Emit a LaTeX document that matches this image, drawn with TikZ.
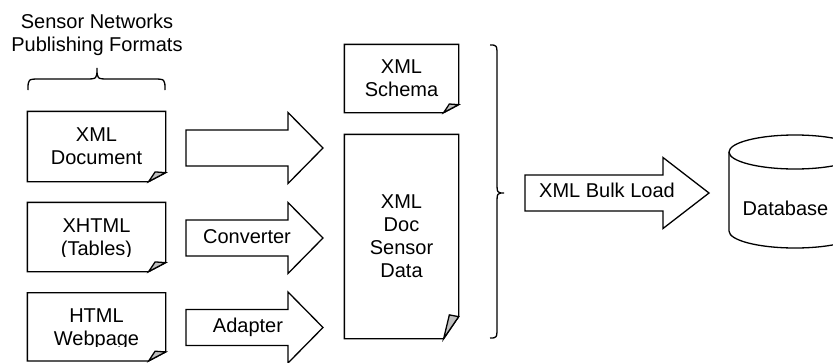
\documentclass[tikz,border=0pt]{standalone}
\usepackage{fontspec}
\setmainfont{Liberation Sans}
\definecolor{foldgray}{gray}{0.75}

% outline of a document box whose lower right corner is turned down
% #1 node name, #2 width of the fold, #3 height of the fold
\newcommand\notebox[3]{%
  \draw (#1.north west) -- (#1.north east) -- ([yshift=#3]#1.south east)
        -- ([xshift=-#2]#1.south east) -- (#1.south west) -- cycle;
  \draw[fill=foldgray] ([xshift=-#2]#1.south east)
        .. controls ([xshift=-0.8*#2, yshift=0.5*#3]#1.south east)
        .. ([xshift=-0.62*#2, yshift=1.08*#3]#1.south east)
        -- ([yshift=#3]#1.south east) -- cycle;
}

% block arrow: #1 tail x, #2 x where the head starts, #3 tip x, #4 centre y
\newcommand\blockarrow[4]{%
  \draw (#1,#4-18) -- (#2,#4-18) -- (#2,#4-35.5) -- (#3,#4)
        -- (#2,#4+35.5) -- (#2,#4+18) -- (#1,#4+18) -- cycle;
}

\begin{document}
\begin{tikzpicture}[x=1pt, y=-1pt, line width=1.3pt,
  every node/.style={font=\fontsize{20}{23}\selectfont, inner sep=0pt},
  txt/.style={align=center, text depth=0pt},
  doc/.style={rectangle, align=center, text depth=0pt},
  lbl/.style={anchor=base}]

\clip (0,0) rectangle (833,362);

% heading and the brace over the source formats
\node[txt] (formats) at (97,33) {Sensor Networks\\Publishing Formats};
\draw (28,90) .. controls (28,79) .. (40,79) -- (85,79)
      .. controls (97,79) .. (97,68) .. controls (97,79) .. (109,79)
      -- (153,79) .. controls (165,79) .. (165,90);

% source documents (their text is cut off near the bottom edge)
\begin{scope}
  \clip (28,112) rectangle (165,166);
  \node[doc, minimum width=137, minimum height=69] (xmldoc) at (96.5,146.5) {XML\\Document};
\end{scope}
\begin{scope}
  \clip (28,203) rectangle (165,256);
  \node[doc, minimum width=137, minimum height=68] (xhtml) at (96.5,237) {XHTML\\(Tables)};
\end{scope}
\begin{scope}
  \clip (28,293) rectangle (165,346.5);
  \node[doc, minimum width=137, minimum height=67] (html) at (96.5,326.8) {HTML\\Webpage};
\end{scope}
\notebox{xmldoc}{17pt}{9pt}
\notebox{xhtml}{17pt}{9pt}
\notebox{html}{17pt}{9pt}

% block arrows from the sources
\blockarrow{186}{288}{323}{148}
\blockarrow{186}{288}{323}{238}
\blockarrow{186}{288}{323}{327.5}
\node[lbl] (converter) at (247,243.3) {Converter};
\node[lbl] (adapter) at (248,332.7) {Adapter};

% schema and sensor data documents
\node[doc, minimum width=113, minimum height=67] (schema) at (401.5,78.5) {XML\\Schema};
\node[doc, minimum width=113, minimum height=203] (sensor) at (401.5,236.5) {XML\\Doc\\Sensor\\Data};
\notebox{schema}{15pt}{8pt}
\notebox{sensor}{15pt}{22pt}

% brace grouping schema and data
\draw (490,45) .. controls (497,45) .. (497,57) -- (497,181)
      .. controls (497,193) .. (504,193) .. controls (497,193) .. (497,205)
      -- (497,326) .. controls (497,338) .. (490,338);

% bulk load arrow
\blockarrow{525}{663}{709}{193}
\node[lbl] (bulkload) at (607,197.7) {XML Bulk Load};

% database cylinder
\draw (729,152) -- (729,231) arc[start angle=180, end angle=0, x radius=66, y radius=17]
      -- (861,152);
\draw (795,152) ellipse[x radius=66, y radius=17];
\node[lbl] (db) at (785.5,215) {Database};
\end{tikzpicture}
\end{document}
